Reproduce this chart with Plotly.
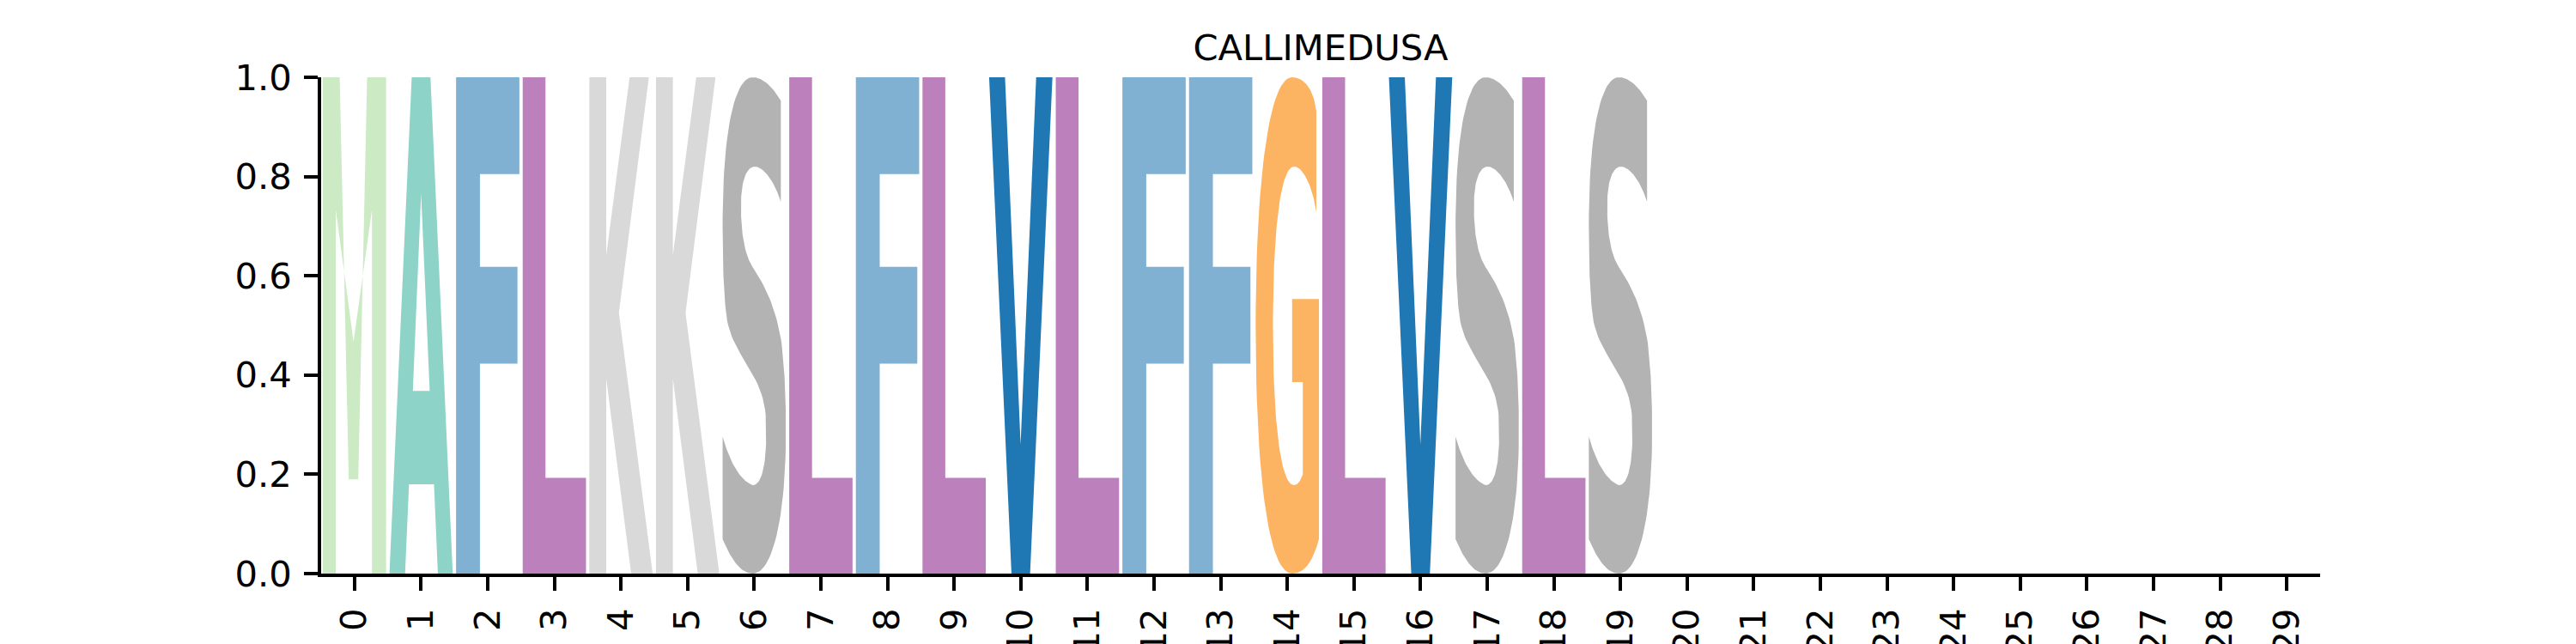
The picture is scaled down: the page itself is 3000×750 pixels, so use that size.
import numpy as np
import plotly.graph_objects as go

# sequence logo data: one residue per position, all at full probability
title = "CALLIMEDUSA"
positions = list(range(30))
tick_labels = [str(p) for p in positions]
residues = ["M", "A", "F", "L", "K", "K", "S", "L", "F", "L",
            "V", "L", "F", "F", "G", "L", "V", "S", "L", "S"]
heights = [1.0, 1.0, 1.0, 1.0, 1.0, 1.0, 1.0, 1.0, 1.0, 1.0,
           1.0, 1.0, 1.0, 1.0, 1.0, 1.0, 1.0, 1.0, 1.0, 1.0]
y_ticks = [0.0, 0.2, 0.4, 0.6, 0.8, 1.0]
y_ticktext = ["0.0", "0.2", "0.4", "0.6", "0.8", "1.0"]

colors = {
    "M": "#ccebc5", "A": "#8dd3c7", "F": "#80b1d3", "L": "#bc80bd",
    "K": "#d9d9d9", "S": "#b3b3b3", "V": "#1f78b4", "G": "#fdb462",
}

# glyph outlines in a unit box (x: 0..1 across, y: 0..1 up)
# segment = (pt,) for a line, (c1, c2, pt) for a cubic bezier
GLYPHS = {
    "M": [[(0, 0), ((0, 1),), ((0.267, 1),), ((0.41, 0.19),), ((0.56, 0.19),),
           ((0.70, 1),), ((1, 1),), ((1, 0),), ((0.776, 0),), ((0.776, 0.733),),
           ((0.485, 0.467),), ((0.205, 0.733),), ((0.205, 0),)]],
    "A": [[(0, 0), ((0.352, 1),), ((0.648, 1),), ((1, 0),), ((0.765, 0),),
           ((0.704, 0.18),), ((0.309, 0.18),), ((0.247, 0),)]],
    "F": [[(0, 0), ((0, 1),), ((1, 1),), ((1, 0.805),), ((0.377, 0.805),),
           ((0.377, 0.618),), ((0.97, 0.618),), ((0.97, 0.423),),
           ((0.377, 0.423),), ((0.377, 0),)]],
    "L": [[(0, 0), ((0, 1),), ((0.36, 1),), ((0.36, 0.193),), ((1, 0.193),),
           ((1, 0),)]],
    "K": [[(0, 0), ((0, 1),), ((0.267, 1),), ((0.267, 0.641),), ((0.636, 1),),
           ((0.94, 1),), ((0.467, 0.525),), ((1, 0),), ((0.66, 0),),
           ((0.267, 0.393),), ((0.267, 0),)]],
    "V": [[(0, 1), ((0.251, 1),), ((0.497, 0.26),), ((0.743, 1),), ((1, 1),),
           ((0.647, 0),), ((0.353, 0),)]],
    "S": [[(0.92, 0.953),
           ((0.784, 0.982), (0.63, 1.0), (0.475, 1.0)),
           ((0.2, 1.0), (0.0, 0.9), (0.0, 0.70)),
           ((0.0, 0.62), (0.02, 0.56), (0.055, 0.525)),
           ((0.12, 0.44), (0.62, 0.41), (0.68, 0.32)),
           ((0.69, 0.285),),
           ((0.69, 0.21), (0.6, 0.178), (0.475, 0.178)),
           ((0.23, 0.19), (0.08, 0.24), (0.0, 0.276)),
           ((0.0, 0.069),),
           ((0.167, 0.019), (0.32, 0.0), (0.475, 0.0)),
           ((0.8, 0.0), (1.0, 0.12), (1.0, 0.285)),
           ((1.0, 0.34), (0.99, 0.38), (0.97, 0.41)),
           ((0.94, 0.52), (0.65, 0.585), (0.475, 0.617)),
           ((0.36, 0.64), (0.29, 0.68), (0.29, 0.74)),
           ((0.29, 0.80), (0.4, 0.82), (0.506, 0.82)),
           ((0.65, 0.82), (0.82, 0.79), (0.92, 0.749))]],
    "G": [[(0.958, 0.932),
           ((0.91, 0.98), (0.75, 1.0), (0.576, 1.0)),
           ((0.2, 1.0), (0.0, 0.78), (0.0, 0.5)),
           ((0.0, 0.2), (0.2, 0.0), (0.576, 0.0)),
           ((0.75, 0.0), (0.9, 0.02), (1.0, 0.07)),
           ((1.0, 0.553),), ((0.576, 0.553),), ((0.576, 0.386),),
           ((0.745, 0.386),), ((0.745, 0.2),),
           ((0.72, 0.19), (0.67, 0.178), (0.606, 0.178)),
           ((0.40, 0.178), (0.273, 0.3), (0.273, 0.5)),
           ((0.273, 0.7), (0.4, 0.82), (0.606, 0.82)),
           ((0.75, 0.82), (0.9, 0.78), (0.958, 0.728))]],
}
# counters that are punched out in white
HOLES = {
    "A": [[(0.37, 0.368), ((0.636, 0.368),), ((0.5, 0.766),)]],
}


def contour_points(contour, n=30):
    cur = np.array(contour[0], dtype=float)
    pts = [cur]
    for seg in contour[1:]:
        if len(seg) == 1:
            cur = np.array(seg[0], dtype=float)
            pts.append(cur)
        else:
            c1, c2, p = (np.array(s, dtype=float) for s in seg)
            t = np.linspace(0, 1, n)[1:, None]
            b = ((1 - t) ** 3) * cur + 3 * ((1 - t) ** 2) * t * c1 \
                + 3 * (1 - t) * t ** 2 * c2 + t ** 3 * p
            pts.extend(b)
            cur = p
    pts.append(pts[0])
    return np.array(pts)


half_w = 0.475
fig = go.Figure()

for pos, (res, h) in enumerate(zip(residues, heights)):
    for contours, fill in ((GLYPHS[res], colors[res]), (HOLES.get(res, []), "white")):
        for c in contours:
            pts = contour_points(c)
            fig.add_trace(go.Scatter(
                x=pos - half_w + pts[:, 0] * 2 * half_w,
                y=pts[:, 1] * h,
                mode="lines", fill="toself", fillcolor=fill,
                line=dict(width=0, color=fill),
                hoverinfo="skip", showlegend=False,
            ))

# page body adds an 8px offset, margins account for it
fig.update_layout(
    width=3000, height=750,
    margin=dict(l=366, r=306, t=82, b=90),
    plot_bgcolor="white", paper_bgcolor="white",
    font=dict(family="DejaVu Sans", size=41.7, color="black"),
    title=dict(text=title, x=0.5, xref="paper", xanchor="center",
               y=1 - 62 / 750, yref="container", yanchor="bottom",
               font=dict(size=41.7)),
    showlegend=False,
)

fig.update_xaxes(
    range=[-0.5, 29.5], tickmode="array", tickvals=positions, ticktext=tick_labels,
    tickangle=-90, ticks="outside", ticklen=16, tickwidth=3.5, tickcolor="black",
    showline=True, linewidth=3.5, linecolor="black", automargin=False,
    showgrid=False, zeroline=False, tickfont=dict(size=41.7),
    ticklabelstandoff=4,
)
fig.update_yaxes(
    range=[0, 1], tickmode="array", tickvals=y_ticks, ticktext=y_ticktext,
    ticks="outside", ticklen=16, tickwidth=3.5, tickcolor="black",
    showline=True, linewidth=3.5, linecolor="black", automargin=False,
    showgrid=False, zeroline=False, tickfont=dict(size=41.7),
    ticklabelstandoff=6,
)

fig.write_html("out.html")
